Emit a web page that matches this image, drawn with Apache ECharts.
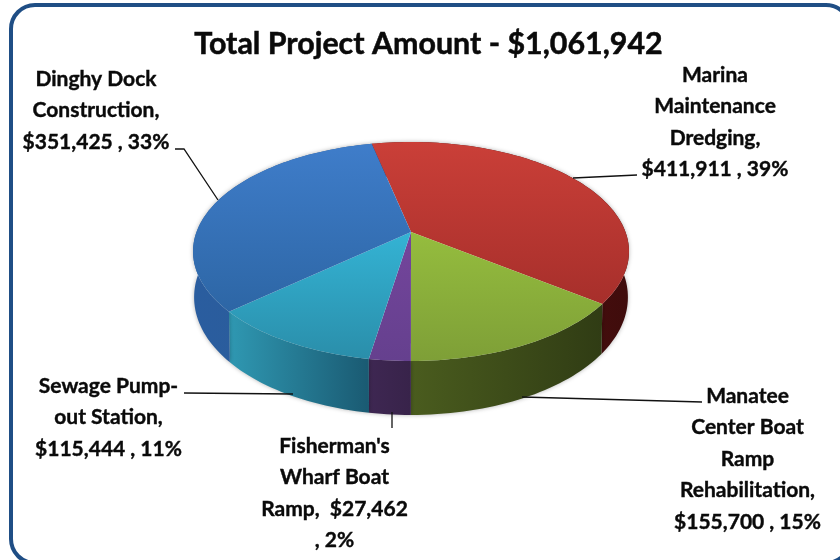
<!DOCTYPE html>
<html>
<head>
<meta charset="utf-8">
<style>html,body{margin:0;padding:0;background:#fff}#main{width:840px;height:560px}</style>
<script src="https://cdn.jsdelivr.net/npm/echarts@6/dist/echarts.min.js"></script>
</head>
<body>
<div id="main"></div>
<script>
// clockwise from the red slice, as in the picture
var categories = ['Marina Maintenance Dredging', 'Manatee Center Boat Ramp Rehabilitation', "Fisherman's Wharf Boat Ramp", 'Sewage Pump-out Station', 'Dinghy Dock Construction'];
var values = [411911, 155700, 27462, 115444, 351425];
var percents = ['39%', '15%', '2%', '11%', '33%'];
var chartTitle = 'Total Project Amount - $1,061,942';

var topColors = [['#ca3f38', '#a72f2b'], ['#95bd3e', '#7e9f37'], ['#74459c', '#65408e'], ['#34b3d4', '#2a8eaa'], ['#3f7dca', '#2d66a5']];
var wallColors = [['#641412', '#3f0c0c'], ['#4a5c1e', '#303c14'], ['#3e2752', '#38234a'], ['#2f98b2', '#1a5a72'], ['#2a5d9f', '#2c5c96']];

// pie drawn in perspective: k tilts the disc towards the viewer
var cx = 411, cy = 232, R = 214.5, B = 106, k = 0.178;
var startDeg = -12.4;

var total = values.reduce(function (a, b) { return a + b; }, 0);

function rim(deg, lower) {
    var t = deg * Math.PI / 180;
    var X = Math.sin(t), Y = -Math.cos(t);
    var s = 1 / (1 - k * Y);
    var px = cx + R * X * s, py = cy + B * Y * s;
    if (lower) {
        px = cx + (px - cx) * 0.995;
        py = py + 44 + 10 * Y;
    }
    return [px, py];
}

function sliceRange(index) {
    var before = 0;
    for (var i = 0; i < index; i++) before += values[i];
    var a = startDeg + before / total * 360;
    return [a, a + values[index] / total * 360];
}

function arc(a, b, lower) {
    var pts = [], n = Math.max(2, Math.ceil((b - a) / 1.5));
    for (var i = 0; i <= n; i++) pts.push(rim(a + (b - a) * i / n, lower));
    return pts;
}

function grad(colors, vertical) {
    return {
        type: 'linear', x: 0, y: 0, x2: vertical ? 0 : 1, y2: vertical ? 1 : 0,
        colorStops: [{ offset: 0, color: colors[0] }, { offset: 1, color: colors[1] }]
    };
}

function renderWall(params) {
    var r = sliceRange(params.dataIndex);
    var pts = arc(r[0], r[1], false).concat(arc(r[0], r[1], true).reverse());
    return {
        type: 'polygon',
        shape: { points: pts },
        style: { fill: grad(wallColors[params.dataIndex], false), shadowBlur: 4, shadowColor: 'rgba(0,0,0,0.3)' }
    };
}

function renderTop(params) {
    var r = sliceRange(params.dataIndex);
    var pts = [[cx, cy]].concat(arc(r[0], r[1], false));
    return {
        type: 'polygon',
        shape: { points: pts },
        style: { fill: grad(topColors[params.dataIndex], true) }
    };
}

var chart = echarts.init(document.getElementById('main'));
var labelFont = { fontFamily: 'Lato', fontWeight: 'bold', fontSize: 21, lineHeight: 31.6, fill: '#0a0a0a', stroke: '#0a0a0a', lineWidth: 0.4, textAlign: 'center', textVerticalAlign: 'top' };

function label(x, y, text) {
    return { type: 'text', x: x, y: y, style: Object.assign({ text: text }, labelFont) };
}
function leader(points) {
    return { type: 'polyline', shape: { points: points }, style: { stroke: '#111', lineWidth: 1.3, fill: null }, z: 5 };
}

var data = values.map(function (v, i) { return { name: categories[i], value: [v, i] }; });

chart.setOption({
    animation: false,
    title: {
        text: chartTitle, left: 423.5, top: 24, textAlign: 'center',
        textStyle: { fontFamily: 'Lato', fontWeight: 'bold', fontSize: 30.4, color: '#0a0a0a', textBorderColor: '#0a0a0a', textBorderWidth: 0.5 }
    },
    series: [
        { type: 'custom', coordinateSystem: 'none', renderItem: renderWall, data: data, z: 1, silent: true },
        { type: 'custom', coordinateSystem: 'none', renderItem: renderTop, data: data, z: 2, silent: true }
    ],
    graphic: [
        { type: 'rect', shape: { x: 11, y: 5, width: 839, height: 558, r: 24 }, style: { fill: null, stroke: '#1f4e85', lineWidth: 4 }, z: 0 },
        label(96, 63, 'Dinghy Dock\nConstruction,\n$351,425 , ' + percents[4]),
        label(715, 59, 'Marina\nMaintenance\nDredging,\n$411,911 , ' + percents[0]),
        label(108.5, 370, 'Sewage Pump-\nout Station,\n$115,444 , ' + percents[3]),
        label(334.5, 430, "Fisherman's\nWharf Boat\nRamp,  $27,462\n, " + percents[2]),
        label(747.5, 380, 'Manatee\nCenter Boat\nRamp\nRehabilitation,\n$155,700 , ' + percents[1]),
        leader([[175, 149], [184, 149], [218, 200]]),
        leader([[637, 175], [573, 178]]),
        leader([[702, 402], [522, 397]]),
        leader([[184, 393], [293, 394]]),
        leader([[392, 412], [392, 428]])
    ]
});
</script>
</body>
</html>
